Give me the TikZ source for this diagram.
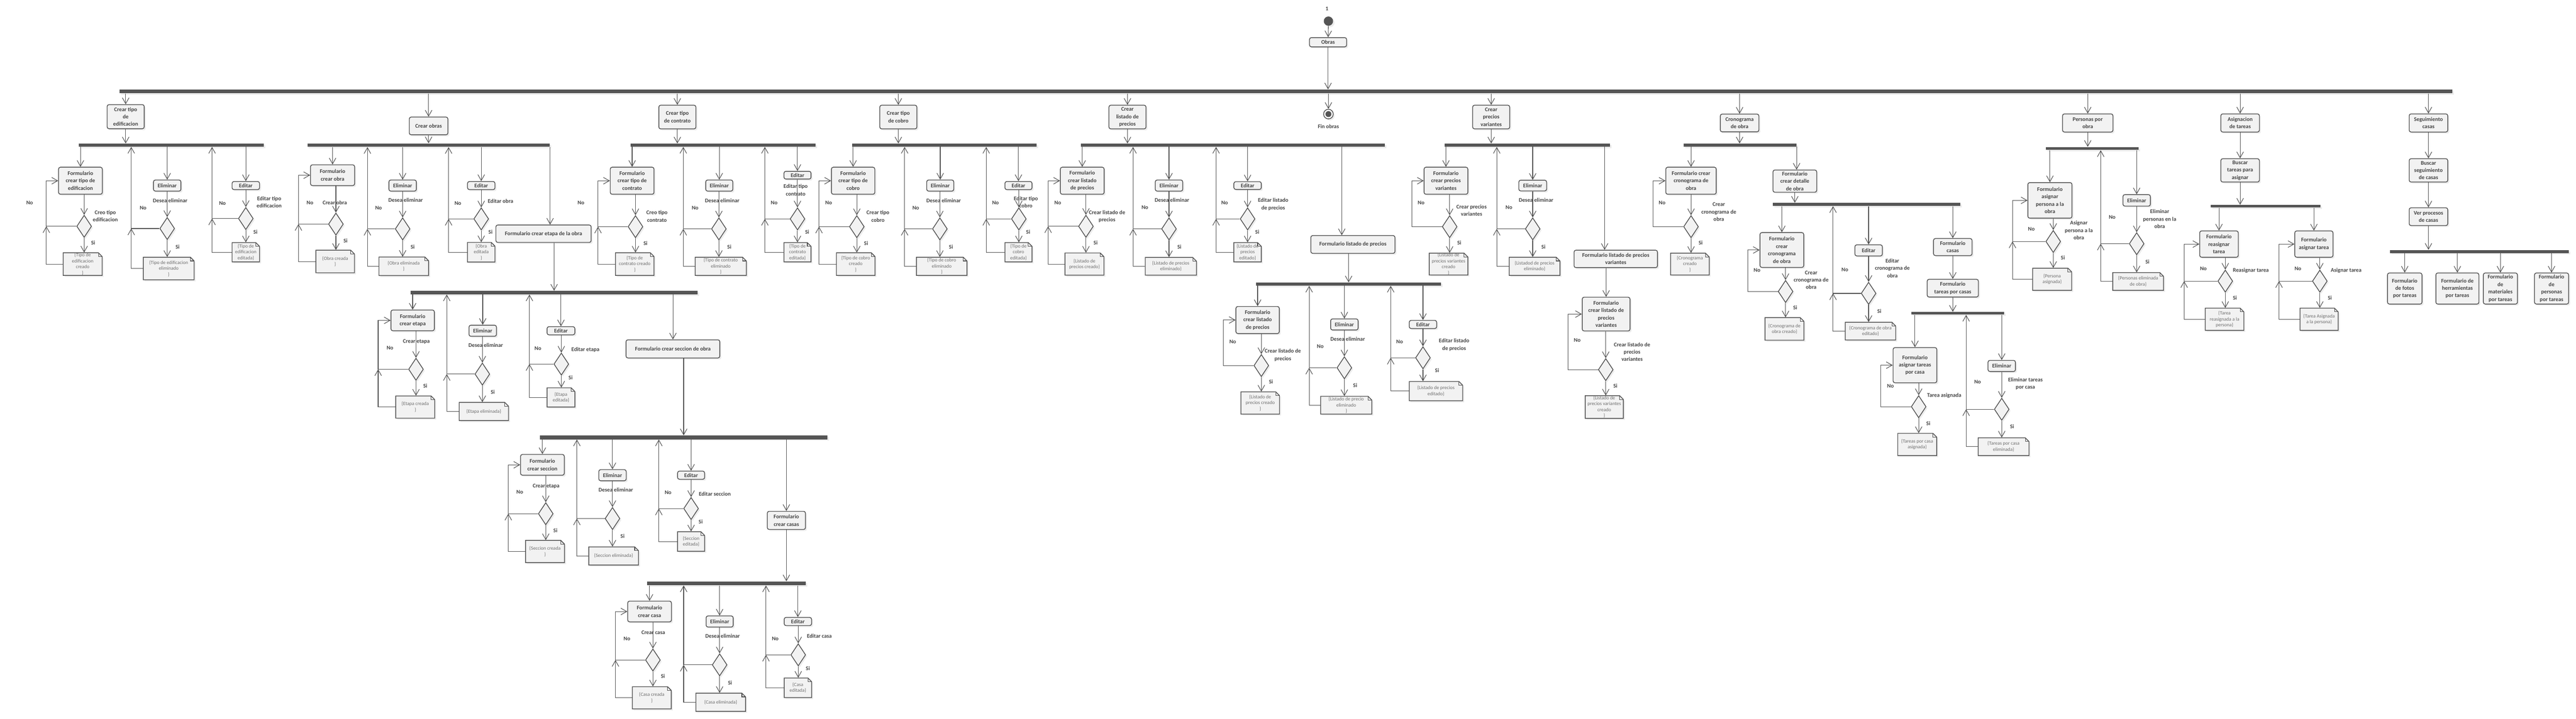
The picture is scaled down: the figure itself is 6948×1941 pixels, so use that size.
\documentclass[tikz,border=0pt]{standalone}
\usepackage{fontspec}
\setmainfont{Carlito}
\usetikzlibrary{arrows.meta,shapes.geometric,shadows,backgrounds}
\definecolor{linec}{HTML}{505050}
\definecolor{boxc}{HTML}{F2F2F2}
\definecolor{barc}{HTML}{555555}
\definecolor{textc}{HTML}{444444}
\definecolor{objc}{HTML}{6E6E6E}
\newcounter{guardc}
\newcommand\actfont{\fontsize{4.27pt}{5.69pt}\selectfont\bfseries}
\newcommand\objfont{\fontsize{3.75pt}{4.55pt}\selectfont}
% node helpers (sizes in px, 1px = 0.01cm)
\newcommand\actnode[5]{\node[act, minimum width=#3*0.01cm, minimum height=#4*0.01cm] (#1) at (#2) {#5};}
\newcommand\decnode[2]{\node[dec] (#1) at (#2) {};}
\newcommand\forkbar[5]{\node[fork, minimum width={(#3-#2)*0.01cm}, minimum height=#5*0.01cm] (#1) at ({(#2+#3)/2},#4) {};}
\newcommand\guardlbl[2]{\stepcounter{guardc}\node[guard] (g\arabic{guardc}) at (#1) {#2};}
\newcommand\objnode[5]{%
  \node[obj, minimum width=#3*0.01cm, minimum height=#4*0.01cm] (#1) at (#2) {#5};
  \begin{scope}[on background layer]
    \path[objshape] (#2) ++({-#3/2},{-#4/2}) -- ++({#3-10},0) -- ++(10,10) -- ++(0,{#4-10}) -- ++({-#3},0) -- cycle;
  \end{scope}
  \draw[objfold] (#2) ++({#3/2-10},{-#4/2}) |- ++(10,10);}
% connector helpers
\newcommand\downto[2]{\draw[flow] (#1.south -| #2.north) -- (#2.north);}
\newcommand\downfrom[2]{\draw[flow] (#1.south) -- (#1.south |- #2.north);}
\newcommand\loopback[4]{\coordinate (#3) at (#4,0);
  \draw[flow] (#1.west) -- (#3 |- #1.west) -- (#3 |- #2.west) -- (#2.west);}
\newcommand\objlink[3]{\draw[flow] (#1.west) -- (#2 |- #1.west) -- (#2 |- #3.west);}
\newcommand\retpath[5]{\coordinate (#3) at (#4,0);
  \draw[flow] (#2.west) -- (#3 |- #2.west) -- (#3 |- #1.west);
  \draw[flow] (#1.west) -- (#3 |- #1.west) -- (#3 |- #5.south);}
\begin{document}
\begin{tikzpicture}[x=0.01cm, y=-0.01cm,
  >={Straight Barb[length=0.16cm,width=0.18cm]},
  shade/.style={drop shadow={shadow xshift=0.04cm, shadow yshift=-0.04cm, opacity=0.15}},
  flow/.style={->, draw=linec, line width=0.015cm},
  act/.style={draw=linec, fill=boxc, line width=0.02cm, rounded corners=0.05cm, align=center,
    font=\actfont, text=textc, inner sep=0pt, shade},
  dec/.style={diamond, draw=linec, fill=boxc, line width=0.02cm, inner sep=0pt,
    minimum width=0.4cm, minimum height=0.6cm, shade},
  fork/.style={fill=barc, inner sep=0pt, shade},
  obj/.style={align=center, font=\objfont, text=objc, inner sep=0pt},
  objshape/.style={draw=linec, fill=boxc, line width=0.02cm, shade},
  objfold/.style={draw=linec, line width=0.015cm},
  guard/.style={align=center, font=\actfont, text=textc, inner sep=0pt},
  startdot/.style={circle, fill=barc, inner sep=0pt, minimum size=0.25cm, shade},
  enddot/.style={circle, draw=linec, fill=white, line width=0.02cm, inner sep=0pt, minimum size=0.26cm, shade}]
\begin{scope}[on background layer]
  \fill[white] (0,0) rectangle (6948,1941);
\end{scope}
\useasboundingbox (0,0) rectangle (6948,1941);

% start and end
\guardlbl{3579,23}{1}
\node[startdot] (ini) at (3583,57) {};
\actnode{obras}{3582,114}{100}{25}{Obras}
\forkbar{big}{323}{6615}{247}{10}
\node[enddot] (fin) at (3583,308) {};
\fill[barc] (fin.center) circle (0.08cm);
\guardlbl{3583,342}{Fin obras}
\draw[flow] (ini) -- (obras);
\draw[flow] (obras.south) -- (obras.south |- big.north);
\draw[flow] (fin.north |- big.south) -- (fin.north);

% tipo de edificacion
\actnode{a1}{339,315}{100}{65}{Crear tipo\\de\\edificacion}
\forkbar{b1}{213}{712}{392}{8}
\actnode{f1}{217,488}{118}{73}{Formulario\\crear tipo de\\edificacion}
\decnode{d1}{227,611}
\objnode{o1}{223,713}{105}{61}{\{Tipo de\\edificacion\\creado\\\}}
\actnode{e1}{451,501}{74}{30}{Eliminar}
\decnode{dd1}{451,617}
\objnode{oe1}{455,725}{137}{61}{\{Tipo de edificacion\\eliminado\\\}}
\actnode{t1}{663,501}{74}{22}{Editar}
\decnode{de1}{663,590}
\objnode{ot1}{663,681}{74}{52}{\{Tipo de\\edificacion\\editada\}}
\guardlbl{80,548}{No}
\guardlbl{284,583}{Creo tipo\\edificacion}
\guardlbl{251,655}{Si}
\guardlbl{386,562}{No}
\guardlbl{459,541}{Desea eliminar}
\guardlbl{479,667}{Si}
\guardlbl{600,549}{No}
\guardlbl{726,546}{Editar tipo\\edificacion}
\guardlbl{689,627}{Si}
\draw[flow] (a1.north |- big.south) -- (a1.north);
\downfrom{a1}{b1}
\downto{b1}{f1} \downto{f1}{d1} \downfrom{d1}{o1}
\loopback{d1}{f1}{l1}{125} \objlink{o1}{l1}{d1}
\downto{b1}{e1} \downto{e1}{dd1} \downfrom{dd1}{oe1}
\retpath{dd1}{oe1}{r1}{354}{b1}
\downto{b1}{t1} \downto{t1}{de1} \downfrom{de1}{ot1}
\retpath{de1}{ot1}{r2}{572}{b1}

% obras
\actnode{a2}{1156,340}{104}{48}{Crear obras}
\forkbar{b2}{829}{1483}{392}{9}
\actnode{f2}{897,473}{119}{56}{Formulario\\crear obra}
\decnode{d2}{906,605}
\objnode{o2}{904,706}{104}{61}{\{Obra creada\\\}}
\actnode{e2}{1086,501}{74}{30}{Eliminar}
\decnode{dd2}{1086,618}
\objnode{oe2}{1089,719}{134}{50}{\{Obra eliminada\\\}}
\actnode{t2}{1298,501}{74}{22}{Editar}
\decnode{de2}{1298,591}
\objnode{ot2}{1298,681}{74}{53}{\{Obra\\editada\\\}}
\actnode{fe}{1466,631}{257}{47}{Formulario crear etapa de la obra}
\guardlbl{836,547}{No}
\guardlbl{903,547}{Crear obra}
\guardlbl{932,650}{Si}
\guardlbl{1021,561}{No}
\guardlbl{1094,540}{Desea eliminar}
\guardlbl{1113,667}{Si}
\guardlbl{1235,549}{No}
\guardlbl{1350,543}{Editar obra}
\guardlbl{1323,627}{Si}
\draw[flow] (a2.north |- big.south) -- (a2.north);
\downfrom{a2}{b2}
\downto{b2}{f2} \downto{f2}{d2} \downfrom{d2}{o2}
\loopback{d2}{f2}{l2}{805} \objlink{o2}{l2}{d2}
\downto{b2}{e2} \downto{e2}{dd2} \downfrom{dd2}{oe2}
\retpath{dd2}{oe2}{r3}{991}{b2}
\downto{b2}{t2} \downto{t2}{de2} \downfrom{de2}{ot2}
\retpath{de2}{ot2}{r4}{1210}{b2}
\draw[flow] (b2.south east) -- (b2.south east |- fe.north);

% etapas
\forkbar{b3}{1107}{1882}{790}{9}
\actnode{f3}{1113,865}{117}{56}{Formulario\\crear etapa}
\decnode{d3}{1122,997}
\objnode{o3}{1120,1099}{105}{60}{\{Etapa creada\\\}}
\actnode{e3}{1302,893}{74}{30}{Eliminar}
\decnode{dd3}{1301,1010}
\objnode{oe3}{1305,1111}{133}{49}{\{Etapa eliminada\}}
\actnode{t3}{1513,893}{75}{22}{Editar}
\decnode{de3}{1514,983}
\objnode{ot3}{1513,1073}{75}{52}{\{Etapa\\editada\}}
\actnode{fs}{1815,942}{253}{49}{Formulario crear seccion de obra}
\guardlbl{1123,923}{Crear etapa}
\guardlbl{1052,939}{No}
\guardlbl{1147,1042}{Si}
\guardlbl{1310,932}{Desea eliminar}
\guardlbl{1329,1059}{Si}
\guardlbl{1451,941}{No}
\guardlbl{1579,944}{Editar etapa}
\guardlbl{1539,1019}{Si}
\downto{fe}{b3}
\downto{b3}{f3} \downto{f3}{d3} \downfrom{d3}{o3}
\loopback{d3}{f3}{l3}{1020} \objlink{o3}{l3}{d3}
\downto{b3}{e3} \downto{e3}{dd3} \downfrom{dd3}{oe3}
\retpath{dd3}{oe3}{r5}{1205}{b3}
\downto{b3}{t3} \downto{t3}{de3} \downfrom{de3}{ot3}
\retpath{de3}{ot3}{r6}{1428}{b3}
\downto{b3}{fs}

% secciones
\forkbar{b4}{1456}{2232}{1181}{10}
\actnode{f4}{1463,1255}{118}{56}{Formulario\\crear seccion}
\decnode{d4}{1472,1387}
\objnode{o4}{1470,1489}{105}{60}{\{Seccion creada\\\}}
\actnode{e4}{1652,1283}{74}{30}{Eliminar}
\decnode{dd4}{1652,1400}
\objnode{oe4}{1655,1501}{134}{49}{\{Seccion eliminada\}}
\actnode{t4}{1864,1283}{73}{22}{Editar}
\decnode{de4}{1864,1373}
\objnode{ot4}{1864,1462}{73}{53}{\{Seccion\\editada\}}
\actnode{fc}{2121,1405}{103}{49}{Formulario\\crear casas}
\guardlbl{1473,1313}{Crear etapa}
\guardlbl{1402,1329}{No}
\guardlbl{1498,1432}{Si}
\guardlbl{1661,1322}{Desea eliminar}
\guardlbl{1679,1448}{Si}
\guardlbl{1802,1330}{No}
\guardlbl{1928,1334}{Editar seccion}
\guardlbl{1890,1409}{Si}
\downto{fs}{b4}
\downto{b4}{f4} \downto{f4}{d4} \downfrom{d4}{o4}
\loopback{d4}{f4}{l4}{1371} \objlink{o4}{l4}{d4}
\downto{b4}{e4} \downto{e4}{dd4} \downfrom{dd4}{oe4}
\retpath{dd4}{oe4}{r7}{1556}{b4}
\downto{b4}{t4} \downto{t4}{de4} \downfrom{de4}{ot4}
\retpath{de4}{ot4}{r8}{1777}{b4}
\downto{b4}{fc}

% casas
\forkbar{b5}{1746}{2173}{1575}{10}
\actnode{f5}{1752,1651}{118}{56}{Formulario\\crear casa}
\decnode{d5}{1761,1782}
\objnode{o5}{1758,1884}{105}{60}{\{Casa creada\\\}}
\actnode{e5}{1941,1678}{73}{30}{Eliminar}
\decnode{dd5}{1941,1795}
\objnode{oe5}{1944,1896}{134}{49}{\{Casa eliminada\}}
\actnode{t5}{2152,1678}{74}{22}{Editar}
\decnode{de5}{2153,1768}
\objnode{ot5}{2152,1857}{74}{53}{\{Casa\\editada\}}
\guardlbl{1762,1708}{Crear casa}
\guardlbl{1691,1725}{No}
\guardlbl{1788,1826}{Si}
\guardlbl{1949,1717}{Desea eliminar}
\guardlbl{1969,1843}{Si}
\guardlbl{2091,1725}{No}
\guardlbl{2210,1717}{Editar casa}
\guardlbl{2179,1805}{Si}
\downfrom{fc}{b5}
\downto{b5}{f5} \downto{f5}{d5} \downfrom{d5}{o5}
\loopback{d5}{f5}{l5}{1660} \objlink{o5}{l5}{d5}
\downto{b5}{e5} \downto{e5}{dd5} \downfrom{dd5}{oe5}
\retpath{dd5}{oe5}{r9}{1844}{b5}
\downto{b5}{t5} \downto{t5}{de5} \downfrom{de5}{ot5}
\retpath{de5}{ot5}{r10}{2066}{b5}

% tipo de contrato
\actnode{a6}{1827,316}{100}{64}{Crear tipo\\de contrato}
\forkbar{b6}{1701}{2200}{392}{8}
\actnode{f6}{1705,488}{118}{73}{Formulario\\crear tipo de\\contrato}
\decnode{d6}{1714,612}
\objnode{o6}{1712,713}{104}{61}{\{Tipo de\\contrato creado\\\}}
\actnode{e6}{1940,501}{73}{30}{Eliminar}
\decnode{dd6}{1939,618}
\objnode{oe6}{1944,719}{138}{49}{\{Tipo de contrato\\eliminado\\\}}
\actnode{t6}{2151,473}{73}{21}{Editar}
\decnode{de6}{2151,591}
\objnode{ot6}{2151,681}{73}{52}{\{Tipo de\\contrato\\editada\}}
\guardlbl{1567,548}{No}
\guardlbl{1772,584}{Creo tipo\\contrato}
\guardlbl{1741,657}{Si}
\guardlbl{1875,561}{No}
\guardlbl{1948,541}{Desea eliminar}
\guardlbl{1967,667}{Si}
\guardlbl{2088,548}{No}
\guardlbl{2146,513}{Editar tipo\\contrato}
\guardlbl{2177,627}{Si}
\draw[flow] (a6.north |- big.south) -- (a6.north);
\downfrom{a6}{b6}
\downto{b6}{f6} \downto{f6}{d6} \downfrom{d6}{o6}
\loopback{d6}{f6}{l6}{1613} \objlink{o6}{l6}{d6}
\downto{b6}{e6} \downto{e6}{dd6} \downfrom{dd6}{oe6}
\retpath{dd6}{oe6}{r11}{1843}{b6}
\downto{b6}{t6} \downto{t6}{de6} \downfrom{de6}{ot6}
\retpath{de6}{ot6}{r12}{2063}{b6}

% tipo de cobro
\actnode{a7}{2423,316}{100}{64}{Crear tipo\\de cobro}
\forkbar{b7}{2298}{2796}{392}{8}
\actnode{f7}{2301,488}{117}{73}{Formulario\\crear tipo de\\cobro}
\decnode{d7}{2311,612}
\objnode{o7}{2308,713}{104}{61}{\{Tipo de cobro\\creado\\\}}
\actnode{e7}{2536,501}{73}{30}{Eliminar}
\decnode{dd7}{2535,618}
\objnode{oe7}{2540,719}{136}{49}{\{Tipo de cobro\\eliminado\\\}}
\actnode{t7}{2747,501}{73}{22}{Editar}
\decnode{de7}{2748,591}
\objnode{ot7}{2747,681}{73}{52}{\{Tipo de\\cobro\\editada\}}
\guardlbl{2235,548}{No}
\guardlbl{2368,584}{Crear tipo\\cobro}
\guardlbl{2336,657}{Si}
\guardlbl{2470,561}{No}
\guardlbl{2545,541}{Desea eliminar}
\guardlbl{2565,667}{Si}
\guardlbl{2685,548}{No}
\guardlbl{2767,546}{Editar tipo\\cobro}
\guardlbl{2773,627}{Si}
\draw[flow] (a7.north |- big.south) -- (a7.north);
\downfrom{a7}{b7}
\downto{b7}{f7} \downto{f7}{d7} \downfrom{d7}{o7}
\loopback{d7}{f7}{l7}{2209} \objlink{o7}{l7}{d7}
\downto{b7}{e7} \downto{e7}{dd7} \downfrom{dd7}{oe7}
\retpath{dd7}{oe7}{r13}{2440}{b7}
\downto{b7}{t7} \downto{t7}{de7} \downfrom{de7}{ot7}
\retpath{de7}{ot7}{r14}{2660}{b7}

% listado de precios
\actnode{a8}{3041,316}{100}{64}{Crear\\listado de\\precios}
\forkbar{b8}{2915}{3735}{392}{8}
\actnode{f8}{2919,488}{118}{73}{Formulario\\crear listado\\de precios}
\decnode{d8}{2929,611}
\objnode{o8}{2925,713}{105}{60}{\{Listado de\\precios creado\}}
\actnode{e8}{3153,501}{74}{30}{Eliminar}
\decnode{dd8}{3153,618}
\objnode{oe8}{3158,719}{138}{48}{\{Listado de precios\\eliminado\}}
\actnode{t8}{3365,501}{74}{21}{Editar}
\decnode{de8}{3365,591}
\objnode{ot8}{3365,681}{74}{52}{\{Listado de\\precios\\editado\}}
\actnode{fl}{3649,660}{227}{48}{Formulario listado de precios}
\guardlbl{2853,548}{No}
\guardlbl{2986,584}{Crear listado de\\precios}
\guardlbl{2955,656}{Si}
\guardlbl{3088,560}{No}
\guardlbl{3161,540}{Desea eliminar}
\guardlbl{3181,667}{Si}
\guardlbl{3303,548}{No}
\guardlbl{3434,552}{Editar listado\\de precios}
\guardlbl{3391,627}{Si}
\draw[flow] (a8.north |- big.south) -- (a8.north);
\downfrom{a8}{b8}
\downto{b8}{f8} \downto{f8}{d8} \downfrom{d8}{o8}
\loopback{d8}{f8}{l8}{2827} \objlink{o8}{l8}{d8}
\downto{b8}{e8} \downto{e8}{dd8} \downfrom{dd8}{oe8}
\retpath{dd8}{oe8}{r15}{3056}{b8}
\downto{b8}{t8} \downto{t8}{de8} \downfrom{de8}{ot8}
\retpath{de8}{ot8}{r16}{3280}{b8}
\draw[flow] ([xshift=-0.3cm]fl.north |- b8.south) -- ([xshift=-0.3cm]fl.north);

% formulario listado de precios
\forkbar{b9}{3388}{3887}{767}{8}
\actnode{f9}{3392,864}{117}{73}{Formulario\\crear listado\\de precios}
\decnode{d9}{3402,987}
\objnode{o9}{3399,1088}{104}{60}{\{Listado de\\precios creado\\\}}
\actnode{e9}{3626,876}{74}{30}{Eliminar}
\decnode{dd9}{3626,993}
\objnode{oe9}{3631,1094}{138}{48}{\{Listado de precio\\eliminado\\\}}
\actnode{t9}{3838,876}{74}{22}{Editar}
\decnode{de9}{3838,966}
\objnode{ot9}{3873,1056}{144}{52}{\{Listado de precios\\editado\}}
\guardlbl{3325,923}{No}
\guardlbl{3460,959}{Crear listado de\\precios}
\guardlbl{3428,1031}{Si}
\guardlbl{3561,935}{No}
\guardlbl{3635,915}{Desea eliminar}
\guardlbl{3655,1041}{Si}
\guardlbl{3775,923}{No}
\guardlbl{3922,931}{Editar listado\\de precios}
\guardlbl{3876,1000}{Si}
\downto{fl}{b9}
\downto{b9}{f9} \downto{f9}{d9} \downfrom{d9}{o9}
\loopback{d9}{f9}{l9}{3300}
\downto{b9}{e9} \downto{e9}{dd9} \downfrom{dd9}{oe9}
\retpath{dd9}{oe9}{r17}{3531}{b9}
\downto{b9}{t9} \downto{t9}{de9} \downfrom{de9}{ot9}
\retpath{de9}{ot9}{r18}{3751}{b9}

% precios variantes
\actnode{a10}{4022,316}{100}{64}{Crear\\precios\\variantes}
\forkbar{b10}{3896}{4343}{392}{8}
\actnode{f10}{3900,488}{118}{73}{Formulario\\crear precios\\variantes}
\decnode{d10}{3910,612}
\objnode{o10}{3907,713}{104}{59}{\{Listado de\\precios variantes\\creado\\\}}
\actnode{e10}{4134,501}{75}{29}{Eliminar}
\decnode{dd10}{4134,618}
\objnode{oe10}{4139,719}{137}{49}{\{Listadod de precios\\eliminado\}}
\actnode{fv}{4358,699}{225}{47}{Formulario listado de precios\\variantes}
\actnode{f11}{4332,848}{129}{91}{Formulario\\crear listado de\\precios\\variantes}
\decnode{d11}{4331,998}
\objnode{o11}{4327,1099}{103}{61}{\{Listado de\\precios variantes\\creado\\\}}
\guardlbl{3833,548}{No}
\guardlbl{3969,568}{Crear precios\\variantes}
\guardlbl{3936,656}{Si}
\guardlbl{4070,560}{No}
\guardlbl{4143,540}{Desea eliminar}
\guardlbl{4163,667}{Si}
\guardlbl{4402,950}{Crear listado de\\precios\\variantes}
\guardlbl{4254,919}{No}
\guardlbl{4357,1042}{Si}
\draw[flow] (a10.north |- big.south) -- (a10.north);
\downfrom{a10}{b10}
\downto{b10}{f10} \downto{f10}{d10} \downfrom{d10}{o10}
\loopback{d10}{f10}{l10}{3808}
\downto{b10}{e10} \downto{e10}{dd10} \downfrom{dd10}{oe10}
\retpath{dd10}{oe10}{r19}{4037}{b10}
\draw[flow] ([xshift=-0.3cm]fv.north |- b10.south) -- ([xshift=-0.3cm]fv.north);
\downto{fv}{f11} \downto{f11}{d11} \downfrom{d11}{o11}
\loopback{d11}{f11}{l11}{4229}

% cronograma de obra
\actnode{a12}{4692,332}{104}{48}{Cronograma\\de obra}
\forkbar{b12}{4541}{4845}{392}{8}
\actnode{f12}{4561,488}{136}{73}{Formulario crear\\cronograma de\\obra}
\decnode{d12}{4561,612}
\objnode{o12}{4558,713}{104}{59}{\{Cronograma\\creado\\\}}
\actnode{fd}{4841,489}{118}{60}{Formulario\\crear detalle\\de obra}
\forkbar{b13}{4782}{5288}{552}{8}
\actnode{f13}{4806,675}{118}{94}{Formulario\\crear\\cronograma\\de obra}
\decnode{d13}{4816,787}
\objnode{o13}{4813,888}{105}{61}{\{Cronograma de\\obra creado\}}
\actnode{t13}{5040,676}{74}{30}{Editar}
\decnode{de13}{5040,792}
\objnode{ot13}{5045,894}{136}{48}{\{Cronograma de obra\\editado\}}
\actnode{fcs}{5267,667}{104}{46}{Formulario\\casas}
\actnode{ftc}{5267,778}{138}{48}{Formulario\\tareas por casas}
\forkbar{b14}{5155}{5405}{846}{7}
\actnode{f14}{5165,986}{118}{95}{Formulario\\asignar tareas\\por casa}
\decnode{d14}{5175,1098}
\objnode{o14}{5171,1200}{105}{60}{\{Tareas por casa\\asignada\}}
\actnode{e14}{5399,988}{74}{30}{Eliminar}
\decnode{dd14}{5399,1105}
\objnode{oe14}{5404,1206}{137}{48}{\{Tareas por casa\\eliminada\}}
\guardlbl{4636,572}{Crear\\cronograma de\\obra}
\guardlbl{4483,548}{No}
\guardlbl{4587,656}{Si}
\guardlbl{4885,756}{Crear\\cronograma de\\obra}
\guardlbl{4739,730}{No}
\guardlbl{4842,830}{Si}
\guardlbl{4976,728}{No}
\guardlbl{5104,724}{Editar\\cronograma de\\obra}
\guardlbl{5069,841}{Si}
\guardlbl{5244,1068}{Tarea asignada}
\guardlbl{5099,1042}{No}
\guardlbl{5201,1143}{Si}
\guardlbl{5334,1031}{No}
\guardlbl{5463,1036}{Eliminar tareas\\por casa}
\guardlbl{5427,1152}{Si}
\draw[flow] (a12.north |- big.south) -- (a12.north);
\downfrom{a12}{b12}
\downto{b12}{f12} \downto{f12}{d12} \downfrom{d12}{o12}
\loopback{d12}{f12}{l12}{4458}
\draw[flow] (b12.south east) -- (b12.south east |- fd.north);
\downfrom{fd}{b13}
\downto{b13}{f13} \downto{f13}{d13} \downfrom{d13}{o13}
\loopback{d13}{f13}{l13}{4714}
\downto{b13}{t13} \downto{t13}{de13} \downfrom{de13}{ot13}
\retpath{de13}{ot13}{r20}{4944}{b13}
\downto{b13}{fcs} \downfrom{fcs}{ftc} \downfrom{ftc}{b14}
\downto{b14}{f14} \downto{f14}{d14} \downfrom{d14}{o14}
\loopback{d14}{f14}{l14}{5073}
\downto{b14}{e14} \downto{e14}{dd14} \downfrom{dd14}{oe14}
\retpath{dd14}{oe14}{r21}{5303}{b14}

% personas por obra
\actnode{a15}{5631,332}{136}{49}{Personas por\\obra}
\forkbar{b15}{5518}{5768}{401}{8}
\actnode{f15}{5529,541}{119}{96}{Formulario\\asignar\\persona a la\\obra}
\decnode{d15}{5538,652}
\objnode{o15}{5535,754}{105}{60}{\{Persona\\asignada\}}
\actnode{e15}{5763,541}{74}{31}{Eliminar}
\decnode{dd15}{5763,658}
\objnode{oe15}{5767,760}{137}{48}{\{Personas eliminada\\de obra\}}
\guardlbl{5607,622}{Asignar\\persona a la\\obra}
\guardlbl{5479,618}{No}
\guardlbl{5564,696}{Si}
\guardlbl{5697,586}{No}
\guardlbl{5825,591}{Eliminar\\personas en la\\obra}
\guardlbl{5792,707}{Si}
\draw[flow] (a15.north |- big.south) -- (a15.north);
\downfrom{a15}{b15}
\downto{b15}{f15} \downto{f15}{d15} \downfrom{d15}{o15}
\loopback{d15}{f15}{l15}{5428} \objlink{o15}{l15}{d15}
\downto{b15}{e15} \downto{e15}{dd15} \downfrom{dd15}{oe15}
\retpath{dd15}{oe15}{r22}{5666}{b15}

% asignacion de tareas
\actnode{a16}{6042,332}{104}{49}{Asignacion\\de tareas}
\actnode{a16b}{6042,460}{104}{63}{Buscar\\tareas para\\asignar}
\forkbar{b16}{5963}{6259}{557}{7}
\actnode{f16}{5985,659}{104}{71}{Formulario\\reasignar\\tarea}
\decnode{d16}{6002,759}
\objnode{o16}{6000,862}{104}{60}{\{Tarea\\reasignada a la\\persona\}}
\actnode{f17}{6241,659}{103}{71}{Formulario\\asignar tarea}
\decnode{d17}{6257,759}
\objnode{o17}{6255,862}{103}{60}{\{Tarea Asignada\\a la persona\}}
\guardlbl{6071,730}{Reasignar tarea}
\guardlbl{5943,726}{No}
\guardlbl{6028,804}{Si}
\guardlbl{6328,730}{Asignar tarea}
\guardlbl{6198,726}{No}
\guardlbl{6284,804}{Si}
\draw[flow] (a16.north |- big.south) -- (a16.north);
\downfrom{a16}{a16b} \downfrom{a16b}{b16}
\downto{b16}{f16} \downto{f16}{d16} \downfrom{d16}{o16}
\loopback{d16}{f16}{l16}{5891} \objlink{o16}{l16}{d16}
\downto{b16}{f17} \downto{f17}{d17} \downfrom{d17}{o17}
\loopback{d17}{f17}{l17}{6147} \objlink{o17}{l17}{d17}

% seguimiento casas
\actnode{a18}{6550,332}{104}{49}{Seguimiento\\casas}
\actnode{a18b}{6550,460}{104}{63}{Buscar\\seguimiento\\de casas}
\actnode{a18c}{6550,585}{104}{48}{Ver procesos\\de casas}
\forkbar{b18}{6446}{6928}{679}{8}
\actnode{s1}{6486,779}{93}{84}{Formulario\\de fotos\\por tareas}
\actnode{s2}{6628,779}{116}{84}{Formulario de\\herramientas\\por tareas}
\actnode{s3}{6744,779}{92}{84}{Formulario\\de\\materiales\\por tareas}
\actnode{s4}{6882,779}{92}{84}{Formulario\\de\\personas\\por tareas}
\draw[flow] (a18.north |- big.south) -- (a18.north);
\downfrom{a18}{a18b} \downfrom{a18b}{a18c} \downfrom{a18c}{b18}
\downto{b18}{s1} \downto{b18}{s2} \downto{b18}{s3} \downto{b18}{s4}
\end{tikzpicture}
\end{document}
